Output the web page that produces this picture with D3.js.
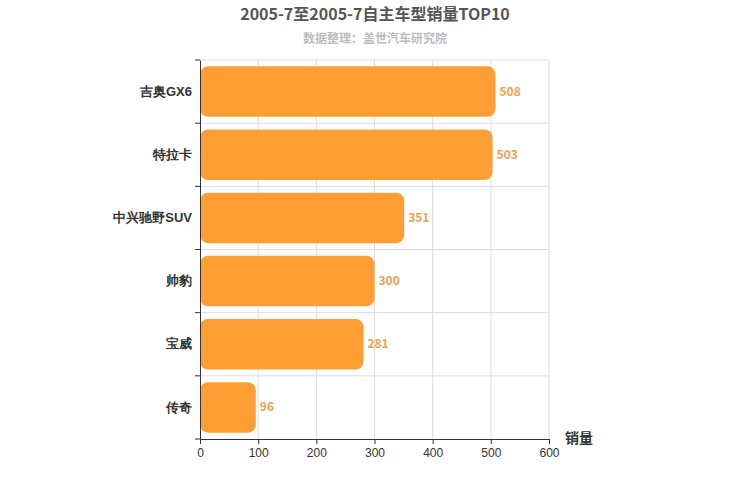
<!DOCTYPE html>
<html><head><meta charset="utf-8">
<script src="https://cdn.jsdelivr.net/npm/d3@7"></script>
<style>body{margin:0;background:#fff;font-family:"Noto Sans CJK SC",sans-serif;}</style>
</head><body><svg id="chart" width="750" height="500"></svg>
<script>
var categories = ["吉奥GX6","特拉卡","中兴驰野SUV","帅豹","宝威","传奇"];
var sales = [508,503,351,300,281,96];
var xTicks = [0,100,200,300,400,500,600];

var svg = d3.select("#chart");
var plotLeft = 200, plotRight = 549, plotTop = 60, plotBottom = 439;
var x = d3.scaleLinear().domain([0,600]).range([plotLeft,plotRight]);
var y = d3.scaleBand().domain(categories).range([plotTop,plotBottom]).paddingInner(0.2).paddingOuter(0.1);
var band = d3.scaleBand().domain(categories).range([plotTop,plotBottom]);

svg.append("text").attr("x",375).attr("y",20).attr("text-anchor","middle")
	.attr("font-size",16).attr("font-weight","bold").attr("fill","#555")
	.text("2005-7至2005-7自主车型销量TOP10");
svg.append("text").attr("x",375).attr("y",43).attr("text-anchor","middle")
	.attr("font-size",12).attr("font-weight","bold").attr("fill","#bbb")
	.text("数据整理：盖世汽车研究院");

// grid
svg.selectAll(".vg").data(xTicks.slice(1)).enter().append("line")
	.attr("x1",d=>x(d)).attr("x2",d=>x(d)).attr("y1",plotTop).attr("y2",plotBottom)
	.attr("stroke","#ddd");
svg.selectAll(".hg").data(categories).enter().append("line")
	.attr("x1",plotLeft).attr("x2",plotRight).attr("y1",d=>band(d)).attr("y2",d=>band(d))
	.attr("stroke","#ddd");

svg.selectAll(".bar").data(sales).enter().append("rect")
	.attr("x",plotLeft).attr("y",(d,i)=>y(categories[i]))
	.attr("width",d=>x(d)-plotLeft).attr("height",y.bandwidth())
	.attr("rx",8).attr("fill","#ff9e35");
svg.selectAll(".lbl").data(sales).enter().append("text")
	.attr("x",d=>x(d)+4).attr("y",(d,i)=>y(categories[i])+y.bandwidth()/2+4)
	.attr("font-size",12).attr("font-weight","bold").attr("fill","#f0a050")
	.text(d=>d);

// axes
var ya = svg.append("g").attr("transform","translate("+plotLeft+",0)")
	.call(d3.axisLeft(band).tickSize(0).tickPadding(8));
ya.select(".domain").attr("stroke","#333");
ya.selectAll("text").attr("font-size",13).attr("fill","#333").attr("font-weight","bold");
ya.selectAll(".tk").data(categories.concat(["end"])).enter().append("line")
	.attr("x1",-5).attr("x2",0)
	.attr("y1",(d,i)=>i<categories.length?band(d):plotBottom).attr("y2",(d,i)=>i<categories.length?band(d):plotBottom)
	.attr("stroke","#333");

var xa = svg.append("g").attr("transform","translate(0,"+plotBottom+")")
	.call(d3.axisBottom(x).tickValues(xTicks).tickSize(5).tickPadding(4));
xa.select(".domain").attr("stroke","#333");
xa.selectAll("line").attr("stroke","#333");
xa.selectAll("text").attr("font-size",12).attr("fill","#333");

svg.append("text").attr("x",565).attr("y",443).attr("font-size",14)
	.attr("font-weight","bold").attr("fill","#333").text("销量");
</script></body></html>
